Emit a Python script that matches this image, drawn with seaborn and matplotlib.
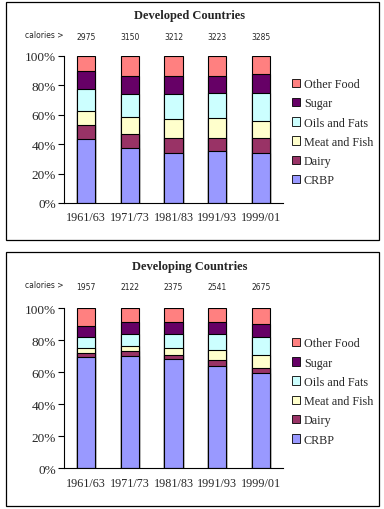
import numpy as np
import pandas as pd
import matplotlib
matplotlib.use("Agg")
import matplotlib.pyplot as plt
from matplotlib.patches import Patch, Rectangle
import seaborn as sns

periods = ["1961/63", "1971/73", "1981/83", "1991/93", "1999/01"]
categories = ["CRBP", "Dairy", "Meat and Fish", "Oils and Fats", "Sugar", "Other Food"]
colors = ["#9999FF", "#993366", "#FFFFCC", "#CCFFFF", "#660066", "#FF8080"]

# shares (%) per category, Developed Countries
dev_crbp = [43.2, 37.1, 34.2, 35.5, 34.2]
dev_dairy = [9.5, 9.5, 10.1, 8.8, 10.1]
dev_meat = [9.5, 11.5, 12.5, 13.2, 11.1]
dev_oils = [14.9, 15.7, 17.0, 16.9, 19.0]
dev_sugar = [12.5, 12.6, 12.6, 12.0, 13.4]
dev_other = [10.4, 13.6, 13.6, 13.6, 12.2]
dev_calories = ["2975", "3150", "3212", "3223", "3285"]

# shares (%) per category, Developing Countries
dvg_crbp = [69.4, 70.4, 68.1, 63.7, 59.4]
dvg_dairy = [2.7, 2.7, 2.7, 3.8, 3.1]
dvg_meat = [2.9, 3.6, 4.2, 6.2, 8.1]
dvg_oils = [7.3, 7.5, 9.2, 10.5, 11.7]
dvg_sugar = [6.4, 7.0, 7.0, 7.0, 8.1]
dvg_other = [11.3, 8.8, 8.8, 8.8, 9.6]
dvg_calories = ["1957", "2122", "2375", "2541", "2675"]

panels = [
    ("Developed Countries", [dev_crbp, dev_dairy, dev_meat, dev_oils, dev_sugar, dev_other], dev_calories),
    ("Developing Countries", [dvg_crbp, dvg_dairy, dvg_meat, dvg_oils, dvg_sugar, dvg_other], dvg_calories),
]

sns.set_theme(style="white")
plt.rcParams["font.family"] = ["Liberation Serif", "DejaVu Serif"]

W, H = 384, 510
fig = plt.figure(figsize=(W / 100, H / 100), dpi=100)
fig.patch.set_facecolor("white")

# panel geometry in pixels
geoms = [
    (3, 241, 56.7, 204.0, 16, 38),
    (253, 507, 309.3, 469.3, 267, 288),
]
ax_left, ax_right = 64.3, 282.7

for (title, series, cals), (bt, bb, at, ab, ty, cy) in zip(panels, geoms):
    fig.patches.append(Rectangle((6 / W, 1 - bb / H), (379 - 6) / W, (bb - bt) / H,
                                 transform=fig.transFigure, fill=False,
                                 edgecolor="black", linewidth=0.9))
    ax = fig.add_axes([ax_left / W, 1 - ab / H, (ax_right - ax_left) / W, (ab - at) / H])
    df = pd.DataFrame({"period": periods})
    cum = np.zeros(len(periods))
    cums = []
    for s in series:
        cum = cum + np.array(s)
        cums.append(cum.copy())
    total = cums[-1].copy()
    for i in range(len(cums) - 1, -1, -1):
        df["cum"] = cums[i] / total * 100
        sns.barplot(data=df, x="period", y="cum", color=colors[i], width=0.42,
                    edgecolor="black", linewidth=0.8, saturation=1, ax=ax)
    ax.set_ylim(0, 100)
    ax.set_xlim(-0.5, 4.5)
    ax.set_xlabel("")
    ax.set_ylabel("")
    ax.set_yticks([0, 20, 40, 60, 80, 100])
    ax.set_yticklabels(["0%", "20%", "40%", "60%", "80%", "100%"], fontsize=9.5)
    ax.set_xticks(range(5))
    ax.set_xticklabels(periods, fontsize=8.7)
    ax.set_xticks(np.arange(-0.5, 5, 1), minor=True)
    ax.tick_params(axis="x", which="major", length=0, pad=6)
    ax.tick_params(axis="x", which="minor", length=4, width=0.8, color="black", direction="out")
    ax.tick_params(axis="y", length=4, width=0.8, color="black", direction="out", pad=2, left=True)
    for side in ["top", "right"]:
        ax.spines[side].set_visible(False)
    for side in ["left", "bottom"]:
        ax.spines[side].set_color("black")
        ax.spines[side].set_linewidth(0.8)
    ax.set_facecolor("white")
    ax.grid(False)

    fig.text(190 / W, 1 - ty / H, title, ha="center", va="center",
             fontsize=9, fontweight="bold")
    fig.text(25 / W, 1 - (cy - 2) / H, "calories >", ha="left", va="center",
             fontsize=5.5, family=["DejaVu Sans"])
    for i, c in enumerate(cals):
        xpx = ax_left + (i + 0.5) * (ax_right - ax_left) / 5
        fig.text(xpx / W, 1 - cy / H, c, ha="center", va="center",
                 fontsize=5.5, family=["DejaVu Sans"])

    handles = [Patch(facecolor=colors[i], edgecolor="black", linewidth=0.6, label=categories[i])
               for i in range(len(categories) - 1, -1, -1)]
    ax.legend(handles=handles, loc="center left", bbox_to_anchor=(1.02, 0.48),
              frameon=False, fontsize=8.7, handlelength=0.7, handleheight=0.7,
              handletextpad=0.3, labelspacing=0.6, borderaxespad=0)

fig.savefig("out.png", dpi=100, facecolor="white")
